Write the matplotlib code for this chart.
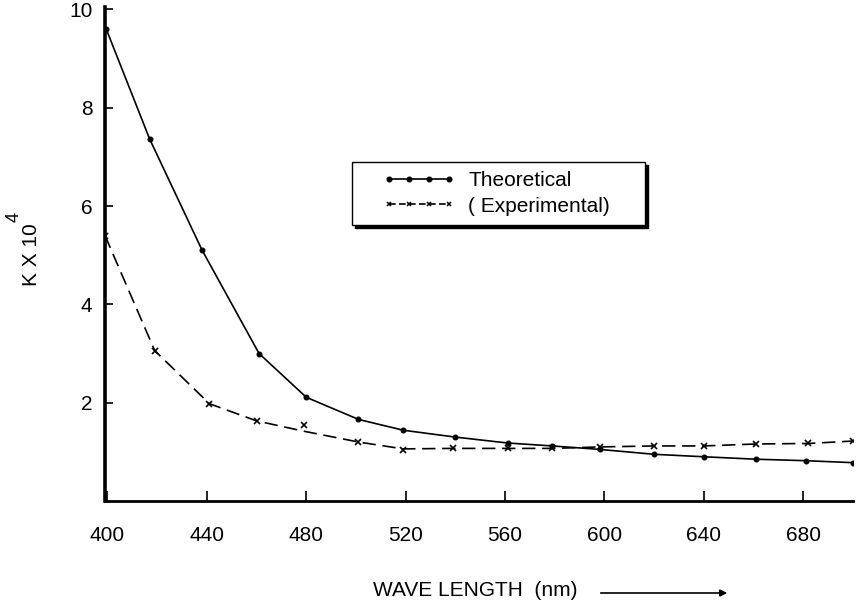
import matplotlib
matplotlib.use("Agg")
import matplotlib.pyplot as plt
from matplotlib.lines import Line2D
from matplotlib.legend_handler import HandlerLine2D

plt.rcParams["font.family"] = ["Liberation Sans", "DejaVu Sans"]

# values
theo_nm = [399.5, 417, 438, 461, 480, 501, 519, 540, 561, 579, 598, 620, 640, 661, 681, 700]
theo_k = [9.6, 7.36, 5.11, 3.0, 2.11, 1.66, 1.44, 1.30, 1.18, 1.12, 1.05, 0.95, 0.90, 0.85, 0.82, 0.78]

exp_nm = [399, 419, 441, 460, 479, 501, 519, 539, 561, 579, 598, 620, 640, 661, 682, 700]
exp_k = [5.40, 3.06, 1.98, 1.63, 1.54, 1.20, 1.03, 1.07, 1.07, 1.07, 1.10, 1.12, 1.12, 1.16, 1.17, 1.22]
# dashed curve drawn through the points (passes under the 480 nm point)
exp_curve_k = [5.40, 3.06, 1.98, 1.63, 1.42, 1.20, 1.06, 1.07, 1.07, 1.07, 1.10, 1.12, 1.12, 1.16, 1.17, 1.22]

xticks = [400, 440, 480, 520, 560, 600, 640, 680]
yticks = [2, 4, 6, 8, 10]

fig = plt.figure(figsize=(8.57, 6.08), dpi=100)
ax = fig.add_axes([105 / 857, 107 / 608, 748 / 857, 494 / 608])

ax.plot(theo_nm, theo_k, color="black", lw=1.2, marker="o", ms=3.3)
ax.plot(exp_nm, exp_curve_k, color="black", lw=1.2, dashes=(8, 4))
ax.plot(exp_nm, exp_k, ls="none", color="black", marker="x", ms=4, mew=1.2)

ax.set_xlim(399, 700)
ax.set_ylim(0, 10.05)
ax.set_xticks(xticks)
ax.set_yticks(yticks)

for side in ["top", "right"]:
    ax.spines[side].set_visible(False)
ax.spines["left"].set_linewidth(2.6)
ax.spines["bottom"].set_linewidth(2.0)

ax.tick_params(axis="x", direction="in", length=7, width=1.2, pad=18, labelsize=15)
ax.tick_params(axis="y", direction="in", length=6, width=1.2, pad=9, labelsize=15)

# legend with dashed/solid samples
h_theo = Line2D([], [], color="black", lw=1.2, marker="o", ms=3.3)
h_exp = Line2D([], [], color="black", lw=1.2, dashes=(4, 2), marker="x", ms=3.5, mew=1.1)
ax.legend([h_theo, h_exp], ["Theoretical", "( Experimental)"],
          loc="upper left", bbox_to_anchor=(0.330, 0.586, 0.392, 0.1),
          mode="expand", borderaxespad=0, fontsize=15,
          frameon=True, fancybox=False, edgecolor="black", numpoints=4,
          handlelength=4.5, handletextpad=0.63, labelspacing=0.3,
          borderpad=0.45, shadow={"color": "black", "alpha": 1},
          handler_map={Line2D: HandlerLine2D(xpad=1.04)})

fig.text(32 / 857, 1 - 255 / 608, "K X 10", rotation=90,
         ha="center", va="center", fontsize=15)
fig.text(14 / 857, 1 - 217 / 608, "4", rotation=90,
         ha="center", va="center", fontsize=13)
fig.text(373 / 857, 1 - 591 / 608, "WAVE LENGTH  (nm)", ha="left",
         va="center", fontsize=15)
ax.annotate("", xy=(730 / 857, 1 - 593 / 608), xytext=(598 / 857, 1 - 593 / 608),
            xycoords="figure fraction", textcoords="figure fraction",
            arrowprops=dict(arrowstyle="-|>", lw=1.2, color="black"))

fig.savefig("out.png", dpi=100)
